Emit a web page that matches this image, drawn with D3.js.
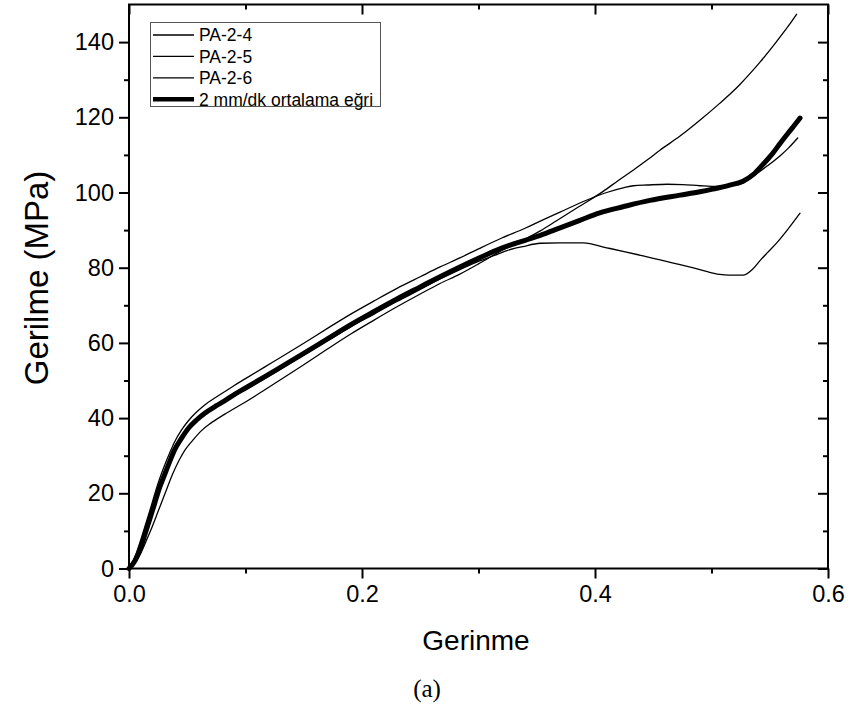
<!DOCTYPE html>
<html><head><meta charset="utf-8">
<script src="https://cdn.jsdelivr.net/npm/d3@7/dist/d3.min.js"></script>
<style>body{margin:0;background:#fff}svg{display:block}</style>
</head><body><svg id="c" width="852" height="709"></svg>
<script>
// ---- data ----
const seriesNames = ["PA-2-4", "PA-2-5", "PA-2-6", "2 mm/dk ortalama eğri"];
const xMajorTicks = [0, 0.2, 0.4, 0.6];
const xMinorTicks = [0.1, 0.3, 0.5];
const yMajorTicks = [0, 20, 40, 60, 80, 100, 120, 140];
const yMinorTicks = [10, 30, 50, 70, 90, 110, 130];
const xTickLabels = ["0.0", "0.2", "0.4", "0.6"];
const yTickLabels = ["0", "20", "40", "60", "80", "100", "120", "140"];
const xTitle = "Gerinme";
const yTitle = "Gerilme (MPa)";
const caption = "(a)";

// PA-2-4
const strainA = [0,0.005,0.01,0.015,0.02,0.025,0.031,0.037,0.043,0.048,0.055,0.062,0.07,0.082,0.1,0.117,0.13,0.15,0.17,0.19,0.21,0.23,0.25,0.267,0.284,0.3,0.32,0.34,0.353,0.367,0.385,0.407,0.42,0.433,0.445,0.456,0.473,0.49,0.507,0.524,0.533,0.542,0.556,0.566,0.573];
const stressA = [0,1.5,4,7.5,11.2,15.2,20,24.8,28.8,31.5,34.2,36.6,38.6,41,44.3,47.6,50.2,54.2,58.3,62.3,66,69.6,73,75.8,78.3,81,84.6,87.6,89.8,92.5,96,100.3,103.2,106,108.7,111.3,115,119.2,123.7,128.6,131.6,134.8,140.2,144.3,147.4];
// PA-2-5
const strainB = [0,0.005,0.01,0.014,0.018,0.022,0.026,0.031,0.035,0.039,0.045,0.051,0.058,0.065,0.075,0.082,0.09,0.1,0.117,0.13,0.15,0.17,0.19,0.21,0.23,0.25,0.267,0.284,0.3,0.32,0.34,0.353,0.37,0.39,0.41,0.425,0.433,0.445,0.462,0.475,0.49,0.505,0.52,0.527,0.536,0.548,0.559,0.566,0.574];
const stressB = [0,3,7.5,11.5,15.5,19.7,23.6,27.8,30.8,33.6,36.8,39.3,41.6,43.5,45.6,47,48.6,50.5,53.7,56.1,59.9,63.8,67.6,71.1,74.5,77.6,80.2,82.6,85,87.9,90.5,92.4,94.8,97.6,100,101.3,101.8,102,102.2,102.1,101.8,101.6,101.9,102.5,104.4,107.1,109.8,111.8,114.5];
// PA-2-6
const strainC = [0,0.005,0.01,0.014,0.018,0.022,0.026,0.031,0.035,0.039,0.045,0.051,0.058,0.065,0.075,0.082,0.09,0.1,0.117,0.13,0.15,0.17,0.19,0.21,0.23,0.25,0.267,0.284,0.3,0.315,0.325,0.338,0.353,0.37,0.39,0.41,0.425,0.439,0.45,0.462,0.473,0.49,0.507,0.515,0.527,0.535,0.542,0.548,0.556,0.565,0.576];
const stressC = [0,2.5,6,9.5,13.2,17,21,25,28.2,31.2,34.3,37,39.2,41,43,44.3,45.8,47.6,50.6,53,56.8,60.5,64.2,67.6,71,74.2,77,79.5,81.7,83.4,84.6,85.6,86.5,86.6,86.6,85.3,84.3,83.3,82.5,81.6,80.8,79.5,78.2,78,78,79.5,82,84,86.6,90,94.5];
// average
const strainM = [0,0.005,0.01,0.014,0.018,0.022,0.026,0.031,0.035,0.039,0.045,0.051,0.058,0.065,0.075,0.082,0.09,0.1,0.117,0.13,0.15,0.17,0.19,0.21,0.23,0.25,0.267,0.284,0.3,0.32,0.34,0.353,0.37,0.387,0.404,0.424,0.447,0.473,0.49,0.501,0.515,0.527,0.536,0.544,0.552,0.559,0.566,0.572,0.576];
const stressM = [0,2,5.5,9.4,13.3,17.3,21.3,25.3,28.5,31.5,34.6,37.3,39.5,41.3,43.3,44.6,46.2,48,51.1,53.5,57.2,61,64.8,68.3,71.7,74.9,77.6,80.2,82.5,85.2,87.3,88.6,90.6,92.6,94.6,96.2,97.9,99.3,100.2,100.9,101.9,103,104.8,107.4,110.2,113.1,115.9,118.2,119.8];

const seriesStrain = [strainA, strainB, strainC, strainM];
const seriesStress = [stressA, stressB, stressC, stressM];
const seriesWidth = [1.3, 1.3, 1.3, 5];

// ---- chart ----
const svg = d3.select("#c");
const x = d3.scaleLinear().domain([0, 0.6]).range([129, 828]);
const y = d3.scaleLinear().domain([0, 150]).range([568.5, 4.5]);
const font = "'Liberation Sans', Arial, sans-serif";

const line = d3.line().x(d => x(d[0])).y(d => y(d[1])).curve(d3.curveMonotoneX);
const g = svg.append("g");
seriesNames.forEach((name, i) => {
  const pts = seriesStrain[i].map((v, k) => [v, seriesStress[i][k]]);
  g.append("path").datum(pts).attr("d", line)
    .attr("fill", "none").attr("stroke", "#000")
    .attr("stroke-width", seriesWidth[i])
    .attr("stroke-linejoin", "round").attr("stroke-linecap", "round");
});

function styleAxis(sel) {
  sel.select(".domain").remove();
  sel.selectAll(".tick line").attr("stroke", "#000").attr("stroke-width", 2);
  sel.selectAll(".tick text").attr("font-family", font).attr("font-size", 23.5).attr("fill", "#000");
}
const y0 = y(0), yTop = y(150);
// bottom
svg.append("g").attr("transform", `translate(0,${y0})`)
  .call(d3.axisBottom(x).tickValues(xMajorTicks).tickSize(10).tickPadding(7).tickFormat((d, i) => xTickLabels[i]))
  .call(styleAxis);
svg.append("g").attr("transform", `translate(0,${y0})`)
  .call(d3.axisBottom(x).tickValues(xMinorTicks).tickSize(5).tickFormat(""))
  .call(styleAxis);
// top (inward)
svg.append("g").attr("transform", `translate(0,${yTop})`)
  .call(d3.axisBottom(x).tickValues(xMajorTicks).tickSize(10).tickFormat(""))
  .call(styleAxis);
svg.append("g").attr("transform", `translate(0,${yTop})`)
  .call(d3.axisBottom(x).tickValues(xMinorTicks).tickSize(5).tickFormat(""))
  .call(styleAxis);
// left
svg.append("g").attr("transform", `translate(${x(0)},0)`)
  .call(d3.axisLeft(y).tickValues(yMajorTicks).tickSize(10).tickPadding(5).tickFormat((d, i) => yTickLabels[i]))
  .call(styleAxis);
svg.append("g").attr("transform", `translate(${x(0)},0)`)
  .call(d3.axisLeft(y).tickValues(yMinorTicks).tickSize(5).tickFormat(""))
  .call(styleAxis);
// right (inward)
svg.append("g").attr("transform", `translate(${x(0.6)},0)`)
  .call(d3.axisLeft(y).tickValues(yMajorTicks).tickSize(10).tickFormat(""))
  .call(styleAxis);
svg.append("g").attr("transform", `translate(${x(0.6)},0)`)
  .call(d3.axisLeft(y).tickValues(yMinorTicks).tickSize(5).tickFormat(""))
  .call(styleAxis);

// frame
svg.append("rect").attr("x", x(0)).attr("y", yTop)
  .attr("width", x(0.6) - x(0)).attr("height", y0 - yTop)
  .attr("fill", "none").attr("stroke", "#000").attr("stroke-width", 2);

// titles
svg.append("text").attr("x", 476).attr("y", 650)
  .attr("text-anchor", "middle").attr("font-family", font).attr("font-size", 28).text(xTitle);
svg.append("text").attr("transform", `translate(48,278) rotate(-90)`)
  .attr("text-anchor", "middle").attr("font-family", font).attr("font-size", 33).text(yTitle);
svg.append("text").attr("x", 427).attr("y", 697)
  .attr("text-anchor", "middle").attr("font-family", "'Liberation Serif','Times New Roman',serif")
  .attr("font-size", 25).text(caption);

// legend
const lg = svg.append("g");
lg.append("rect").attr("x", 150.5).attr("y", 22.5).attr("width", 230).attr("height", 84)
  .attr("fill", "#fff").attr("stroke", "#555").attr("stroke-width", 1);
seriesNames.forEach((name, i) => {
  const yy = 35 + i * 21.4;
  lg.append("line").attr("x1", 153).attr("x2", 194).attr("y1", yy).attr("y2", yy)
    .attr("stroke", "#000").attr("stroke-width", i === 3 ? 4.5 : 1.3);
  lg.append("text").attr("x", 199).attr("y", yy + 6.3)
    .attr("font-family", font).attr("font-size", 17.5).text(name);
});
</script></body></html>
